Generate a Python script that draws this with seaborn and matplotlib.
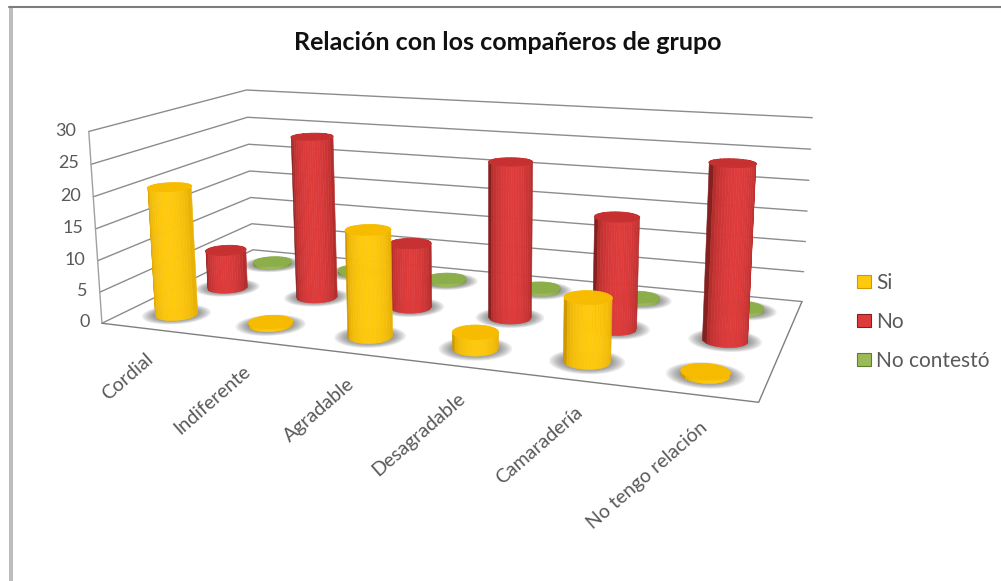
import numpy as np
import matplotlib
matplotlib.use("Agg")
import matplotlib.pyplot as plt
import seaborn as sns
from matplotlib.lines import Line2D
from matplotlib.patches import Patch, Rectangle
from mpl_toolkits.mplot3d import proj3d

# values
categories = ["Cordial", "Indiferente", "Agradable", "Desagradable", "Camaradería", "No tengo relación"]
series_names = ["Si", "No", "No contestó"]
si_values = [20.5, 0.5, 16.4, 2.5, 9.4, 0.5]
no_values = [6.5, 26.7, 10.5, 24.7, 17.4, 26.6]
nc_values = [0.5, 0.5, 0.5, 0.5, 0.5, 0.5]
z_ticks = [0, 5, 10, 15, 20, 25, 30]

sns.set_style("white")
plt.rcParams["font.family"] = ["Lato", "DejaVu Sans"]

side_bright = sns.color_palette(["#FFC90E", "#DE3B3B", "#9BBB59"])
side_dark = sns.color_palette(["#CF9800", "#84201F", "#5F7D2C"])
cap_colors = sns.color_palette(["#F7BC00", "#C63030", "#8CAF4A"])
text_gray = "#595959"

W, H = 1001, 581
fig = plt.figure(figsize=(W / 100, H / 100), dpi=100)

# camera fitted on the corners of the walls
scale, cx, cy = 3881.39, 459.33, 219.82
side = scale * 0.185
left = cx - 0.095 * scale
bottom = H - cy - 0.095 * scale
ax = fig.add_axes([left / W, bottom / H, side / W, side / H], projection="3d", computed_zorder=False)
ax.view_init(elev=13.297, azim=-69.54, roll=0.274)
ax.set_proj_type("persp", focal_length=0.3478)
ax.set_box_aspect((3.3413, 1.5946, 1))
ax.set_axis_off()
ax.patch.set_alpha(0)
ax.set_autoscale_on(False)
ax.set_xlim(0, 6)
ax.set_ylim(0, 3)
ax.set_zlim(0, 30)


def to_fig(x, y, z):
    # 3D data point to figure fraction, for the plain texts
    vx, vy, _ = proj3d.proj_transform(x, y, z, ax.get_proj())
    return fig.transFigure.inverted().transform(ax.transData.transform((vx, vy)))


# walls and floor
for v in z_ticks:
    ax.plot([0, 0, 6], [0, 3, 3], [v, v, v], color="#8c8c8c", lw=1.0, zorder=1)
ax.plot([0, 0], [0, 0], [0, 30], color="#a0a0a0", lw=1.0, zorder=1)
ax.plot([0, 6, 6], [0, 0, 3], [0, 0, 0], color="#7f7f7f", lw=1.0, zorder=1)

rx, ry = 0.2, 0.21
view = np.deg2rad(-69.54)


def disc(x0, y0, z0, f, color, alpha, zorder, lw=0):
    r = np.array([0, 1])
    t = np.linspace(0, 2 * np.pi, 61)
    xx = x0 + f * rx * np.outer(r, np.cos(t))
    yy = y0 + f * ry * np.outer(r, np.sin(t))
    zz = np.full_like(xx, z0)
    ax.plot_surface(xx, yy, zz, color=color, edgecolor=color if lw else None, alpha=alpha, shade=False,
                    linewidth=lw, antialiased=True, zorder=zorder)


def cylinder(x0, y0, h, s, zorder):
    # soft shadow on the floor
    for f in np.linspace(1.6, 1.05, 8):
        disc(x0, y0, 0, f, "#4a4a4a", 0.09, zorder)
    # half facing the camera, strips of even width on screen (thin ones give a wavy edge)
    t = view + np.arcsin(np.linspace(-1, 1, 19))
    z = np.array([0, h])
    xx = x0 + rx * np.outer(np.ones(2), np.cos(t))
    yy = y0 + ry * np.outer(np.ones(2), np.sin(t))
    zz = np.outer(z, np.ones_like(t))
    light = np.clip(np.cos(t - view), 0, 1) ** 0.8
    cols = np.array(side_dark[s]) + np.outer(light, np.array(side_bright[s]) - np.array(side_dark[s]))
    cols = np.c_[cols, np.ones(len(t))]
    face = np.tile(cols, (2, 1, 1))
    ax.plot_surface(xx, yy, zz, facecolors=face, rstride=1, cstride=1, shade=False,
                    linewidth=0.4, antialiased=True, zorder=zorder + 0.1)
    disc(x0, y0, h, 1, cap_colors[s], 1, zorder + 0.2, lw=0.6)


# back row first, left to right
rows = [si_values, no_values, nc_values]
for s in [2, 1, 0]:
    for i, v in enumerate(rows[s]):
        cylinder(i + 0.5, s + 0.5, v, s, 10 + (2 - s) * 10 + i)

for a in ax.get_children():
    a.set_clip_on(False)

# axis texts
for v in z_ticks:
    px, py = to_fig(-0.13, 0, v)
    fig.text(px, py, str(v), ha="right", va="center", fontsize=13, color=text_gray)
for i, name in enumerate(categories):
    px, py = to_fig(i + 0.45, -0.3, 0)
    fig.text(px + 19 / W, py - 13 / H, name, ha="right", va="top", rotation=41, rotation_mode="anchor",
             fontsize=14, color=text_gray)

fig.text(508 / W, 1 - 42 / H, "Relación con los compañeros de grupo", ha="center", va="center",
         fontsize=18, fontweight="bold", color="#111111")

# chart frame
fig.add_artist(Rectangle((9 / W, 0), 4 / W, 1 - 6 / H, transform=fig.transFigure, color="#bdbdbd", lw=0))
fig.add_artist(Line2D([9 / W, 1], [1 - 6.5 / H, 1 - 6.5 / H], color="#7d7d7d", lw=1.5))

handles = [Patch(facecolor=side_bright[k], edgecolor=side_dark[k], lw=0.8) for k in range(3)]
fig.legend(handles, series_names, loc="center left", bbox_to_anchor=(857 / W, 1 - 322 / H),
           frameon=False, fontsize=15, labelcolor=text_gray, handlelength=0.68, handleheight=0.6,
           handletextpad=0.25, labelspacing=0.92, borderpad=0, borderaxespad=0)

fig.savefig("out.png", dpi=100)
